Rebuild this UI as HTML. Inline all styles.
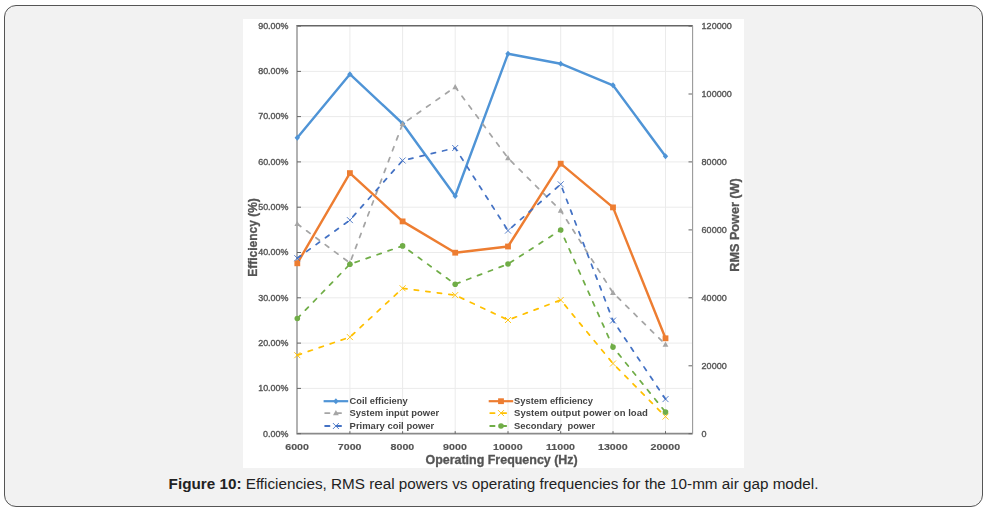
<!DOCTYPE html>
<html><head><meta charset="utf-8"><style>
html,body{margin:0;padding:0;background:#fff;width:987px;height:510px;overflow:hidden}
.card{position:absolute;left:4px;top:5px;width:977px;height:500px;border:1px solid #555;border-radius:12px;background:#f2f2f2}
svg{position:absolute;left:0;top:0;will-change:transform}
.cap{position:absolute;left:5px;width:977px;top:475px;background:#f2f2f2;text-align:center;font-family:"Liberation Sans",sans-serif;font-size:15.25px;color:#222;white-space:nowrap}
</style></head><body>
<div class="card"></div>
<svg width="987" height="510" viewBox="0 0 987 510">
<rect x="243" y="19" width="501" height="449" fill="#fff"/>
<path d="M297 388.4H692 M297 343.1H692 M297 297.8H692 M297 252.5H692 M297 207.2H692 M297 161.9H692 M297 116.6H692 M297 71.4H692 M349.9 26.06V433.7 M402.6 26.06V433.7 M455.2 26.06V433.7 M508.0 26.06V433.7 M560.7 26.06V433.7 M613.0 26.06V433.7 M665.5 26.06V433.7" stroke="#ebebeb" stroke-width="1" fill="none"/>
<path d="M296.3 25.8H692.8" stroke="#666" stroke-width="1.5"/>
<path d="M296.3 433.7H692.8" stroke="#8a8a8a" stroke-width="1.7"/>
<path d="M297.0 25.8V433.7" stroke="#aaa" stroke-width="1.8"/>
<path d="M692.6 25.8V433.7" stroke="#999" stroke-width="1.1"/>
<path d="M297 433.7H301 M297 388.4H301 M297 343.1H301 M297 297.8H301 M297 252.5H301 M297 207.2H301 M297 161.9H301 M297 116.6H301 M297 71.4H301 M297 26.1H301 M688.5 433.7H692 M688.5 365.8H692 M688.5 297.8H692 M688.5 229.9H692 M688.5 161.9H692 M688.5 94.0H692 M688.5 26.1H692 M349.9 431.2V433.7 M402.6 431.2V433.7 M455.2 431.2V433.7 M508.0 431.2V433.7 M560.7 431.2V433.7 M613.0 431.2V433.7 M665.5 431.2V433.7" stroke="#666" stroke-width="1" fill="none"/>
<polyline points="297.3,137.7 349.9,74.2 402.6,123.5 455.2,196.0 508.0,53.8 560.7,63.7 613.0,85.3 665.5,156.2" fill="none" stroke="#4f94d6" stroke-width="2.4" stroke-linejoin="round"/>
<path d="M297.3 134.7L300.0 137.7L297.3 140.7L294.6 137.7Z" fill="#4f94d6"/>
<path d="M349.9 71.2L352.6 74.2L349.9 77.2L347.2 74.2Z" fill="#4f94d6"/>
<path d="M402.6 120.5L405.3 123.5L402.6 126.5L399.9 123.5Z" fill="#4f94d6"/>
<path d="M455.2 193.0L457.9 196.0L455.2 199.0L452.5 196.0Z" fill="#4f94d6"/>
<path d="M508.0 50.8L510.7 53.8L508.0 56.8L505.3 53.8Z" fill="#4f94d6"/>
<path d="M560.7 60.7L563.4 63.7L560.7 66.7L558.0 63.7Z" fill="#4f94d6"/>
<path d="M613.0 82.3L615.7 85.3L613.0 88.3L610.3 85.3Z" fill="#4f94d6"/>
<path d="M665.5 153.2L668.2 156.2L665.5 159.2L662.8 156.2Z" fill="#4f94d6"/>
<polyline points="297.3,263.3 349.9,173.1 402.6,221.4 455.2,252.7 508.0,246.5 560.7,163.7 613.0,207.4 665.5,338.3" fill="none" stroke="#ed7d31" stroke-width="2.4" stroke-linejoin="round"/>
<rect x="294.4" y="260.4" width="5.8" height="5.8" fill="#ed7d31"/>
<rect x="347.0" y="170.2" width="5.8" height="5.8" fill="#ed7d31"/>
<rect x="399.7" y="218.5" width="5.8" height="5.8" fill="#ed7d31"/>
<rect x="452.3" y="249.8" width="5.8" height="5.8" fill="#ed7d31"/>
<rect x="505.1" y="243.6" width="5.8" height="5.8" fill="#ed7d31"/>
<rect x="557.8" y="160.8" width="5.8" height="5.8" fill="#ed7d31"/>
<rect x="610.1" y="204.5" width="5.8" height="5.8" fill="#ed7d31"/>
<rect x="662.6" y="335.4" width="5.8" height="5.8" fill="#ed7d31"/>
<polyline points="297.3,223.9 349.9,263.0 402.6,123.9 455.2,87.0 508.0,158.1 560.7,210.6 613.0,292.8 665.5,344.5" fill="none" stroke="#a5a5a5" stroke-width="1.75" stroke-linejoin="round" stroke-dasharray="4.3 7.3" stroke-linecap="round"/>
<path d="M297.3 220.9L300.2 226.1L294.4 226.1Z" fill="#a5a5a5"/>
<path d="M349.9 260.0L352.8 265.2L347.0 265.2Z" fill="#a5a5a5"/>
<path d="M402.6 120.9L405.5 126.1L399.7 126.1Z" fill="#a5a5a5"/>
<path d="M455.2 84.0L458.1 89.2L452.3 89.2Z" fill="#a5a5a5"/>
<path d="M508.0 155.1L510.9 160.3L505.1 160.3Z" fill="#a5a5a5"/>
<path d="M560.7 207.6L563.6 212.8L557.8 212.8Z" fill="#a5a5a5"/>
<path d="M613.0 289.8L615.9 295.0L610.1 295.0Z" fill="#a5a5a5"/>
<path d="M665.5 341.5L668.4 346.7L662.6 346.7Z" fill="#a5a5a5"/>
<polyline points="297.3,355.2 349.9,337.1 402.6,288.3 455.2,295.1 508.0,320.0 560.7,300.0 613.0,363.5 665.5,416.6" fill="none" stroke="#ffc000" stroke-width="1.75" stroke-linejoin="round" stroke-dasharray="4.3 7.3" stroke-linecap="round"/>
<path d="M294.3 352.2L300.3 358.2M300.3 352.2L294.3 358.2" stroke="#ffc000" stroke-width="0.9" fill="none"/>
<path d="M346.9 334.1L352.9 340.1M352.9 334.1L346.9 340.1" stroke="#ffc000" stroke-width="0.9" fill="none"/>
<path d="M399.6 285.3L405.6 291.3M405.6 285.3L399.6 291.3" stroke="#ffc000" stroke-width="0.9" fill="none"/>
<path d="M452.2 292.1L458.2 298.1M458.2 292.1L452.2 298.1" stroke="#ffc000" stroke-width="0.9" fill="none"/>
<path d="M505.0 317.0L511.0 323.0M511.0 317.0L505.0 323.0" stroke="#ffc000" stroke-width="0.9" fill="none"/>
<path d="M557.7 297.0L563.7 303.0M563.7 297.0L557.7 303.0" stroke="#ffc000" stroke-width="0.9" fill="none"/>
<path d="M610.0 360.5L616.0 366.5M616.0 360.5L610.0 366.5" stroke="#ffc000" stroke-width="0.9" fill="none"/>
<path d="M662.5 413.6L668.5 419.6M668.5 413.6L662.5 419.6" stroke="#ffc000" stroke-width="0.9" fill="none"/>
<polyline points="297.3,258.2 349.9,220.1 402.6,160.5 455.2,148.0 508.0,230.6 560.7,184.3 613.0,320.6 665.5,399.1" fill="none" stroke="#4472c4" stroke-width="1.75" stroke-linejoin="round" stroke-dasharray="4.3 7.3" stroke-linecap="round"/>
<path d="M294.3 255.2L300.3 261.2M300.3 255.2L294.3 261.2" stroke="#4472c4" stroke-width="0.9" fill="none"/>
<path d="M346.9 217.1L352.9 223.1M352.9 217.1L346.9 223.1" stroke="#4472c4" stroke-width="0.9" fill="none"/>
<path d="M399.6 157.5L405.6 163.5M405.6 157.5L399.6 163.5" stroke="#4472c4" stroke-width="0.9" fill="none"/>
<path d="M452.2 145.0L458.2 151.0M458.2 145.0L452.2 151.0" stroke="#4472c4" stroke-width="0.9" fill="none"/>
<path d="M505.0 227.6L511.0 233.6M511.0 227.6L505.0 233.6" stroke="#4472c4" stroke-width="0.9" fill="none"/>
<path d="M557.7 181.3L563.7 187.3M563.7 181.3L557.7 187.3" stroke="#4472c4" stroke-width="0.9" fill="none"/>
<path d="M610.0 317.6L616.0 323.6M616.0 317.6L610.0 323.6" stroke="#4472c4" stroke-width="0.9" fill="none"/>
<path d="M662.5 396.1L668.5 402.1M668.5 396.1L662.5 402.1" stroke="#4472c4" stroke-width="0.9" fill="none"/>
<polyline points="297.3,318.5 349.9,264.2 402.6,245.9 455.2,284.2 508.0,264.0 560.7,230.0 613.0,347.1 665.5,412.1" fill="none" stroke="#70ad47" stroke-width="1.75" stroke-linejoin="round" stroke-dasharray="4.3 7.3" stroke-linecap="round"/>
<circle cx="297.3" cy="318.5" r="2.8" fill="#70ad47"/>
<circle cx="349.9" cy="264.2" r="2.8" fill="#70ad47"/>
<circle cx="402.6" cy="245.9" r="2.8" fill="#70ad47"/>
<circle cx="455.2" cy="284.2" r="2.8" fill="#70ad47"/>
<circle cx="508.0" cy="264.0" r="2.8" fill="#70ad47"/>
<circle cx="560.7" cy="230.0" r="2.8" fill="#70ad47"/>
<circle cx="613.0" cy="347.1" r="2.8" fill="#70ad47"/>
<circle cx="665.5" cy="412.1" r="2.8" fill="#70ad47"/>
<text x="288.50" y="436.50" font-family="Liberation Sans, sans-serif" font-size="8.6" text-anchor="end" fill="#555" stroke="#555" stroke-width="0.35" textLength="25.36" lengthAdjust="spacingAndGlyphs">0.00%</text>
<text x="288.50" y="391.21" font-family="Liberation Sans, sans-serif" font-size="8.6" text-anchor="end" fill="#555" stroke="#555" stroke-width="0.35" textLength="30.33" lengthAdjust="spacingAndGlyphs">10.00%</text>
<text x="288.50" y="345.91" font-family="Liberation Sans, sans-serif" font-size="8.6" text-anchor="end" fill="#555" stroke="#555" stroke-width="0.35" textLength="30.33" lengthAdjust="spacingAndGlyphs">20.00%</text>
<text x="288.50" y="300.62" font-family="Liberation Sans, sans-serif" font-size="8.6" text-anchor="end" fill="#555" stroke="#555" stroke-width="0.35" textLength="30.33" lengthAdjust="spacingAndGlyphs">30.00%</text>
<text x="288.50" y="255.33" font-family="Liberation Sans, sans-serif" font-size="8.6" text-anchor="end" fill="#555" stroke="#555" stroke-width="0.35" textLength="30.33" lengthAdjust="spacingAndGlyphs">40.00%</text>
<text x="288.50" y="210.03" font-family="Liberation Sans, sans-serif" font-size="8.6" text-anchor="end" fill="#555" stroke="#555" stroke-width="0.35" textLength="30.33" lengthAdjust="spacingAndGlyphs">50.00%</text>
<text x="288.50" y="164.74" font-family="Liberation Sans, sans-serif" font-size="8.6" text-anchor="end" fill="#555" stroke="#555" stroke-width="0.35" textLength="30.33" lengthAdjust="spacingAndGlyphs">60.00%</text>
<text x="288.50" y="119.45" font-family="Liberation Sans, sans-serif" font-size="8.6" text-anchor="end" fill="#555" stroke="#555" stroke-width="0.35" textLength="30.33" lengthAdjust="spacingAndGlyphs">70.00%</text>
<text x="288.50" y="74.15" font-family="Liberation Sans, sans-serif" font-size="8.6" text-anchor="end" fill="#555" stroke="#555" stroke-width="0.35" textLength="30.33" lengthAdjust="spacingAndGlyphs">80.00%</text>
<text x="288.50" y="28.86" font-family="Liberation Sans, sans-serif" font-size="8.6" text-anchor="end" fill="#555" stroke="#555" stroke-width="0.35" textLength="30.33" lengthAdjust="spacingAndGlyphs">90.00%</text>
<text x="701.60" y="436.50" font-family="Liberation Sans, sans-serif" font-size="8.6" fill="#555" stroke="#555" stroke-width="0.35" textLength="5.02" lengthAdjust="spacingAndGlyphs">0</text>
<text x="701.60" y="368.56" font-family="Liberation Sans, sans-serif" font-size="8.6" fill="#555" stroke="#555" stroke-width="0.35" textLength="25.11" lengthAdjust="spacingAndGlyphs">20000</text>
<text x="701.60" y="300.62" font-family="Liberation Sans, sans-serif" font-size="8.6" fill="#555" stroke="#555" stroke-width="0.35" textLength="25.11" lengthAdjust="spacingAndGlyphs">40000</text>
<text x="701.60" y="232.68" font-family="Liberation Sans, sans-serif" font-size="8.6" fill="#555" stroke="#555" stroke-width="0.35" textLength="25.11" lengthAdjust="spacingAndGlyphs">60000</text>
<text x="701.60" y="164.74" font-family="Liberation Sans, sans-serif" font-size="8.6" fill="#555" stroke="#555" stroke-width="0.35" textLength="25.11" lengthAdjust="spacingAndGlyphs">80000</text>
<text x="701.60" y="96.80" font-family="Liberation Sans, sans-serif" font-size="8.6" fill="#555" stroke="#555" stroke-width="0.35" textLength="30.13" lengthAdjust="spacingAndGlyphs">100000</text>
<text x="701.60" y="28.86" font-family="Liberation Sans, sans-serif" font-size="8.6" fill="#555" stroke="#555" stroke-width="0.35" textLength="30.13" lengthAdjust="spacingAndGlyphs">120000</text>
<text x="297.10" y="450.20" font-family="Liberation Sans, sans-serif" font-size="8.6" font-weight="bold" text-anchor="middle" fill="#555" stroke="#555" stroke-width="0.15" textLength="23.72" lengthAdjust="spacingAndGlyphs">6000</text>
<text x="349.70" y="450.20" font-family="Liberation Sans, sans-serif" font-size="8.6" font-weight="bold" text-anchor="middle" fill="#555" stroke="#555" stroke-width="0.15" textLength="23.72" lengthAdjust="spacingAndGlyphs">7000</text>
<text x="402.40" y="450.20" font-family="Liberation Sans, sans-serif" font-size="8.6" font-weight="bold" text-anchor="middle" fill="#555" stroke="#555" stroke-width="0.15" textLength="23.72" lengthAdjust="spacingAndGlyphs">8000</text>
<text x="455.00" y="450.20" font-family="Liberation Sans, sans-serif" font-size="8.6" font-weight="bold" text-anchor="middle" fill="#555" stroke="#555" stroke-width="0.15" textLength="23.72" lengthAdjust="spacingAndGlyphs">9000</text>
<text x="507.80" y="450.20" font-family="Liberation Sans, sans-serif" font-size="8.6" font-weight="bold" text-anchor="middle" fill="#555" stroke="#555" stroke-width="0.15" textLength="29.65" lengthAdjust="spacingAndGlyphs">10000</text>
<text x="560.50" y="450.20" font-family="Liberation Sans, sans-serif" font-size="8.6" font-weight="bold" text-anchor="middle" fill="#555" stroke="#555" stroke-width="0.15" textLength="29.07" lengthAdjust="spacingAndGlyphs">11000</text>
<text x="612.80" y="450.20" font-family="Liberation Sans, sans-serif" font-size="8.6" font-weight="bold" text-anchor="middle" fill="#555" stroke="#555" stroke-width="0.15" textLength="29.65" lengthAdjust="spacingAndGlyphs">13000</text>
<text x="665.30" y="450.20" font-family="Liberation Sans, sans-serif" font-size="8.6" font-weight="bold" text-anchor="middle" fill="#555" stroke="#555" stroke-width="0.15" textLength="29.65" lengthAdjust="spacingAndGlyphs">20000</text>
<text x="501.60" y="463.80" font-family="Liberation Sans, sans-serif" font-size="12" font-weight="bold" text-anchor="middle" fill="#555" stroke="#555" stroke-width="0.3" textLength="152.26" lengthAdjust="spacingAndGlyphs">Operating Frequency (Hz)</text>
<g transform="translate(256.8 237.5) rotate(-90)"><text x="0.00" y="0.00" font-family="Liberation Sans, sans-serif" font-size="12" font-weight="bold" text-anchor="middle" fill="#555" stroke="#555" stroke-width="0.3" textLength="78.69" lengthAdjust="spacingAndGlyphs">Efficiency (%)</text></g>
<g transform="translate(738.6 225) rotate(-90)"><text x="0.00" y="0.00" font-family="Liberation Sans, sans-serif" font-size="12" font-weight="bold" text-anchor="middle" fill="#555" stroke="#555" stroke-width="0.3" textLength="93.36" lengthAdjust="spacingAndGlyphs">RMS Power (W)</text></g>
<path d="M323.6 401.2H348.2" stroke="#4f94d6" stroke-width="2.2"/><path d="M335.9 398.2L338.6 401.2L335.9 404.2L333.2 401.2Z" fill="#4f94d6"/><text x="349.60" y="404.10" font-family="Liberation Sans, sans-serif" font-size="9" font-weight="bold" fill="#444" textLength="57.97" lengthAdjust="spacingAndGlyphs" xml:space="preserve">Coil efficieny</text><path d="M325.1 413.1H346.7" stroke="#a5a5a5" stroke-width="1.8" stroke-dasharray="4.4 7.2" stroke-linecap="round"/><path d="M335.9 410.1L338.8 415.3L333.0 415.3Z" fill="#a5a5a5"/><text x="349.60" y="416.00" font-family="Liberation Sans, sans-serif" font-size="9" font-weight="bold" fill="#444" textLength="89.45" lengthAdjust="spacingAndGlyphs" xml:space="preserve">System input power</text><path d="M325.1 426.0H346.7" stroke="#4472c4" stroke-width="1.8" stroke-dasharray="4.4 7.2" stroke-linecap="round"/><path d="M332.9 423.0L338.9 429.0M338.9 423.0L332.9 429.0" stroke="#4472c4" stroke-width="0.9" fill="none"/><text x="349.60" y="428.90" font-family="Liberation Sans, sans-serif" font-size="9" font-weight="bold" fill="#444" textLength="84.64" lengthAdjust="spacingAndGlyphs" xml:space="preserve">Primary coil power</text><path d="M488.7 401.2H513.2" stroke="#ed7d31" stroke-width="2.2"/><rect x="498.1" y="398.3" width="5.8" height="5.8" fill="#ed7d31"/><text x="514.10" y="404.10" font-family="Liberation Sans, sans-serif" font-size="9" font-weight="bold" fill="#444" textLength="78.93" lengthAdjust="spacingAndGlyphs" xml:space="preserve">System efficiency</text><path d="M490.2 413.1H511.70000000000005" stroke="#ffc000" stroke-width="1.8" stroke-dasharray="4.4 7.2" stroke-linecap="round"/><path d="M498.0 410.1L504.0 416.1M504.0 410.1L498.0 416.1" stroke="#ffc000" stroke-width="0.9" fill="none"/><text x="514.10" y="416.00" font-family="Liberation Sans, sans-serif" font-size="9" font-weight="bold" fill="#444" textLength="133.69" lengthAdjust="spacingAndGlyphs" xml:space="preserve">System output power on load</text><path d="M490.2 426.0H511.70000000000005" stroke="#70ad47" stroke-width="1.8" stroke-dasharray="4.4 7.2" stroke-linecap="round"/><circle cx="501.0" cy="426.0" r="2.8" fill="#70ad47"/><text x="514.10" y="428.90" font-family="Liberation Sans, sans-serif" font-size="9" font-weight="bold" fill="#444" textLength="81.01" lengthAdjust="spacingAndGlyphs" xml:space="preserve">Secondary  power</text>
</svg>
<div class="cap"><b>Figure 10:</b> Efficiencies, RMS real powers vs operating frequencies for the 10-mm air gap model.</div>
</body></html>
